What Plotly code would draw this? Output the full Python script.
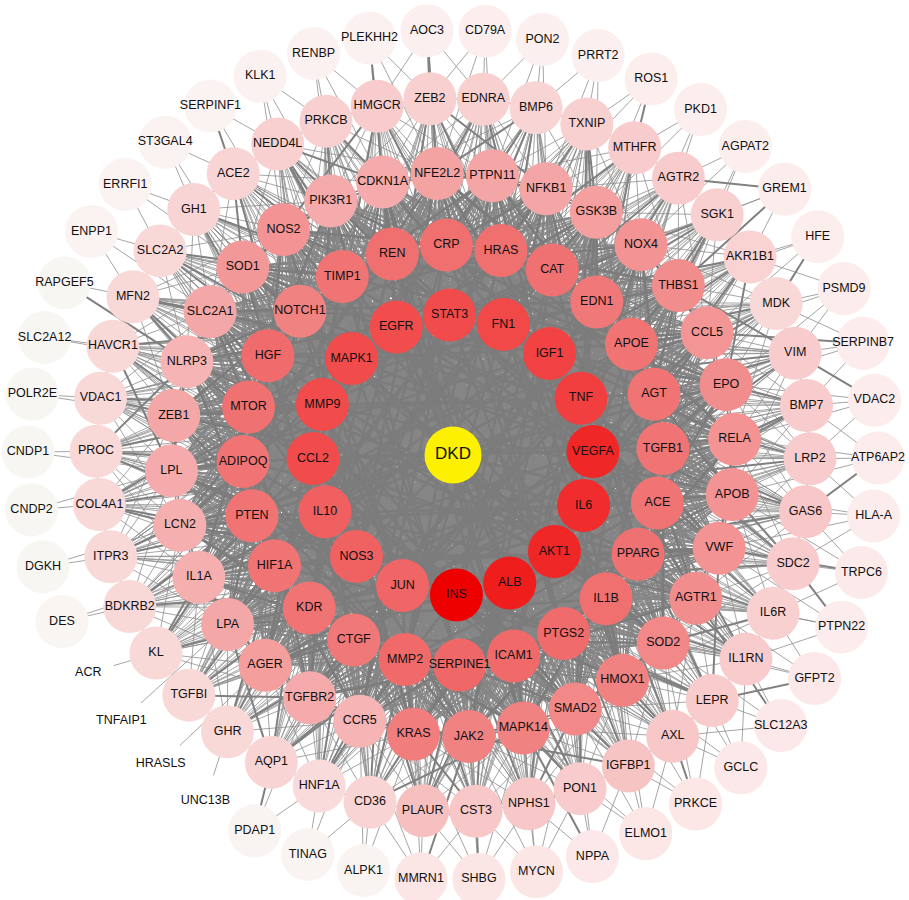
import math
import plotly.graph_objects as go

# ---------------------------------------------------------------------------
# Network data: DKD at the centre, target proteins arranged in concentric
# shells ordered by connectivity (inner shells = most connected).
# Each shell lists its proteins clockwise starting from the top.
# Scores drive node colour (white -> red).
# ---------------------------------------------------------------------------
hub = "DKD"

shell1 = ["STAT3", "FN1", "IGF1", "TNF", "VEGFA", "IL6", "AKT1", "ALB", "INS",
          "JUN", "NOS3", "IL10", "CCL2", "MMP9", "MAPK1", "EGFR"]
shell1_score = [84, 85, 86, 87, 92, 91, 92, 94, 100, 74, 75, 76, 84, 84, 84, 83]

shell2 = ["CRP", "HRAS", "CAT", "EDN1", "APOE", "AGT", "TGFB1", "ACE", "PPARG",
          "IL1B", "PTGS2", "ICAM1", "SERPINE1", "MMP2", "CTGF", "KDR", "HIF1A",
          "PTEN", "ADIPOQ", "MTOR", "HGF", "NOTCH1", "TIMP1", "REN"]
shell2_score = [70, 70, 69, 66, 68, 68, 68, 68, 69, 70, 71, 72, 73, 72, 66, 68,
                68, 68, 68, 69, 71, 62, 68, 70]

shell3 = ["NFE2L2", "PTPN11", "NFKB1", "GSK3B", "NOX4", "THBS1", "CCL5", "EPO",
          "RELA", "APOB", "VWF", "AGTR1", "SOD2", "HMOX1", "SMAD2", "MAPK14",
          "JAK2", "KRAS", "CCR5", "TGFBR2", "AGER", "LPA", "IL1A", "LCN2", "LPL",
          "ZEB1", "NLRP3", "SLC2A1", "SOD1", "NOS2", "PIK3R1", "CDKN1A"]
shell3_score = [50, 49, 49, 51, 56, 58, 55, 58, 56, 56, 56, 58, 60, 62, 60, 62,
                62, 64, 42, 46, 52, 48, 44, 44, 46, 48, 42, 48, 54, 56, 46, 46]

shell4 = ["ZEB2", "EDNRA", "BMP6", "TXNIP", "MTHFR", "AGTR2", "SGK1", "AKR1B1",
          "MDK", "VIM", "BMP7", "LRP2", "GAS6", "SDC2", "IL6R", "IL1RN", "LEPR",
          "AXL", "IGFBP1", "PON1", "NPHS1", "CST3", "PLAUR", "CD36", "HNF1A",
          "AQP1", "GHR", "TGFBI", "KL", "BDKRB2", "ITPR3", "COL4A1", "PROC",
          "VDAC1", "HAVCR1", "MFN2", "SLC2A2", "GH1", "ACE2", "NEDD4L", "PRKCB",
          "HMGCR"]
shell4_score = [28, 28, 26, 28, 30, 30, 28, 27, 24, 30, 30, 30, 32, 30, 28, 30,
                30, 32, 34, 30, 32, 32, 36, 26, 22, 26, 24, 24, 24, 24, 24, 24,
                24, 24, 24, 24, 24, 26, 26, 28, 28, 30]

shell5 = ["AOC3", "CD79A", "PON2", "PRRT2", "ROS1", "PKD1", "AGPAT2", "GREM1",
          "HFE", "PSMD9", "SERPINB7", "VDAC2", "ATP6AP2", "HLA-A", "TRPC6",
          "PTPN22", "GFPT2", "SLC12A3", "GCLC", "PRKCE", "ELMO1", "NPPA", "MYCN",
          "SHBG", "MMRN1", "ALPK1", "TINAG", "PDAP1", "UNC13B", "HRASLS",
          "TNFAIP1", "ACR", "DES", "DGKH", "CNDP2", "CNDP1", "POLR2E", "SLC2A12",
          "RAPGEF5", "ENPP1", "ERRFI1", "ST3GAL4", "SERPINF1", "KLK1", "RENBP",
          "PLEKHH2"]
shell5_score = [10, 11, 10, 10, 11, 11, 11, 12, 11, 12, 12, 12, 12, 12, 13, 12,
                14, 14, 14, 15, 15, 14, 16, 16, 16, 6, 6, 6, 0, 0, 0, 0, 5, 3,
                3, 3, 3, 3, 3, 8, 8, 8, 8, 9, 9, 9]

# ---------------------------------------------------------------------------
# Concentric layout: (names, scores, radius, angle of first node in degrees)
# ---------------------------------------------------------------------------
CX, CY = 453, 455
SHELLS = [
    (shell1, shell1_score, 140, 91.4),
    (shell2, shell2_score, 210, 91.8),
    (shell3, shell3_score, 282, 93.2),
    (shell4, shell4_score, 357, 93.7),
    (shell5, shell5_score, 425, 93.5),
]

pos, ang, score, level = {}, {}, {}, {}
pos[hub] = (CX, CY)
level[hub] = 0
for lvl, (names, scores, r, a0) in enumerate(SHELLS, start=1):
    n = len(names)
    for i, (name, s) in enumerate(zip(names, scores)):
        a = math.radians(a0 - 360.0 * i / n)
        pos[name] = (CX + r * math.cos(a), CY - r * math.sin(a))
        ang[name] = a
        score[name] = s
        level[name] = lvl

order = [hub] + [n for sh in SHELLS for n in sh[0]]
index = {n: i for i, n in enumerate(order)}


def nearest(name, pool, k):
    a = ang[name]

    def gap(m):
        return abs((ang[m] - a + math.pi) % (2 * math.pi) - math.pi)
    return sorted((m for m in pool if m != name), key=gap)[:k]


# ---------------------------------------------------------------------------
# Interaction edges
# ---------------------------------------------------------------------------
edges = set()


def link(a, b):
    if a != b:
        edges.add(tuple(sorted((a, b), key=index.get)))


core = shell1 + shell2
for n in core + shell3 + shell4:
    link(hub, n)
for i, a in enumerate(core):
    for b in core[i + 1:]:
        link(a, b)
for a in shell3:
    for b in core:
        link(a, b)
    for b in nearest(a, shell3, 4):
        link(a, b)
for a in shell4:
    for b in shell1:
        link(a, b)
    for b in nearest(a, shell2 + shell3, 8):
        link(a, b)
    for b in nearest(a, shell4, 2):
        link(a, b)
for a in shell5:
    k = 1 + score[a] // 3
    for b in nearest(a, shell3 + shell4, k):
        link(a, b)

# group segments: inner (both ends within shells 0-3) vs. outer, thin vs. thick
groups = {key: ([], []) for key in ("inner_thin", "inner_thick",
                                    "outer_thin", "outer_thick")}
for a, b in sorted(edges, key=lambda e: (index[e[0]], index[e[1]])):
    (x0, y0), (x1, y1) = pos[a], pos[b]
    zone = "inner" if max(level[a], level[b]) <= 3 else "outer"
    weight = "thick" if (index[a] * 7 + index[b] * 3) % 8 == 0 else "thin"
    xs, ys = groups[f"{zone}_{weight}"]
    xs += [x0, x1, None]
    ys += [y0, y1, None]

line_style = {
    "inner_thin": dict(color="#868686", width=1.3),
    "inner_thick": dict(color="#7c7c7c", width=2.6),
    "outer_thin": dict(color="#8e8e8e", width=0.8),
    "outer_thick": dict(color="#808080", width=2.0),
}

fig = go.Figure()
for key in ("outer_thin", "outer_thick", "inner_thin", "inner_thick"):
    xs, ys = groups[key]
    fig.add_trace(go.Scatter(x=xs, y=ys, mode="lines", line=line_style[key],
                             hoverinfo="skip", showlegend=False))

targets = order[1:]
colorscale = [
    [0.00, "#ffffff"], [0.03, "#f7f6f2"], [0.08, "#fbf3f2"],
    [0.14, "#fce8e8"], [0.25, "#f9d6d6"], [0.35, "#f7c2c2"],
    [0.50, "#f4a3a3"], [0.62, "#f18282"], [0.72, "#f06a6a"],
    [0.85, "#f14848"], [0.93, "#f02222"], [1.00, "#ee0000"],
]
fig.add_trace(go.Scatter(
    x=[pos[n][0] for n in targets], y=[pos[n][1] for n in targets],
    mode="markers+text", text=targets, textposition="middle center",
    textfont=dict(family="Liberation Sans, Arial, sans-serif", size=12.5,
                  color="#111111"),
    marker=dict(size=53, color=[score[n] for n in targets],
                colorscale=colorscale, cmin=0, cmax=100,
                line=dict(width=0)),
    hoverinfo="text", showlegend=False))

fig.add_trace(go.Scatter(
    x=[pos[hub][0]], y=[pos[hub][1]], mode="markers+text", text=[hub],
    textposition="middle center",
    textfont=dict(family="Liberation Sans, Arial, sans-serif", size=17,
                  color="#111111"),
    marker=dict(size=57, color="#fdf000", line=dict(width=0)),
    hoverinfo="text", showlegend=False))

fig.update_layout(
    width=909, height=900,
    margin=dict(l=0, r=0, t=0, b=0),
    paper_bgcolor="white", plot_bgcolor="white",
    xaxis=dict(range=[0, 909], visible=False, fixedrange=True),
    yaxis=dict(range=[900, 0], visible=False, fixedrange=True),
)

fig.write_html("out.html")
